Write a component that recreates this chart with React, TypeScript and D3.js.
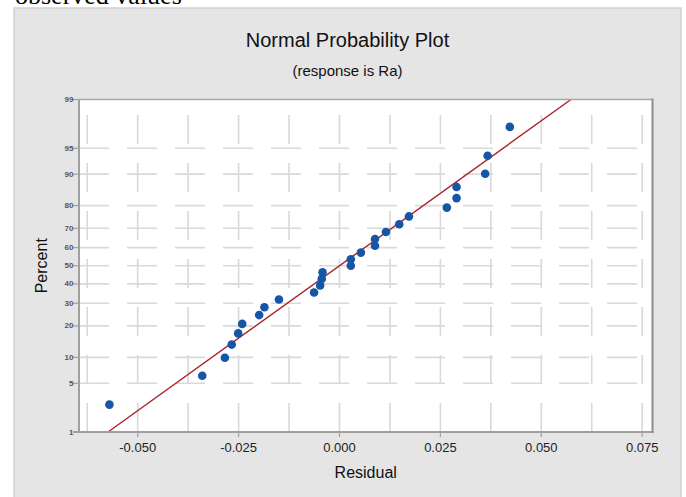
import * as d3 from "d3";

// residuals sorted ascending, with their plotted percent
const residuals = [
  -0.057, -0.034, -0.0284, -0.0267, -0.0251, -0.0241, -0.0199, -0.0186, -0.015,
  -0.0063, -0.0048, -0.0044, -0.0042, 0.0028, 0.0028, 0.0053, 0.0088, 0.0088,
  0.0115, 0.0148, 0.0172, 0.0266, 0.029, 0.029, 0.0361, 0.0367, 0.0422,
];
const percents = [
  2.6, 6.2, 9.9, 13.5, 17.2, 20.8, 24.5, 28.1, 31.8, 35.4, 39.1, 42.7, 46.4, 50.0,
  53.6, 57.3, 61.0, 64.6, 68.2, 71.9, 75.5, 79.2, 82.8, 86.5, 90.1, 93.8, 97.4,
];

// fitted normal line
const fitMean = 0.0;
const fitSd = 0.02465;

const percentTicks = [1, 5, 10, 20, 30, 40, 50, 60, 70, 80, 90, 95, 99];
const percentGrid = [5, 10, 20, 30, 40, 50, 60, 70, 80, 90, 95];
const residualTicks = [-0.05, -0.025, 0, 0.025, 0.05, 0.075];
const residualGrid = [-0.0625, -0.05, -0.0375, -0.025, -0.0125, 0, 0.0125, 0.025, 0.0375, 0.05, 0.0625, 0.075];

const W = 686;
const H = 497;
const PLOT = { left: 79, right: 652.5, top: 99.5, bottom: 432 };

// inverse normal cdf (Acklam)
function qnorm(p: number): number {
  const a = [-39.69683028665376, 220.9460984245205, -275.9285104469687, 138.357751867269, -30.66479806614716, 2.506628277459239];
  const b = [-54.47609879822406, 161.5858368580409, -155.6989798598866, 66.80131188771972, -13.28068155288572];
  const c = [-0.007784894002430293, -0.3223964580411365, -2.400758277161838, -2.549732539343734, 4.374664141464968, 2.938163982698783];
  const d = [0.007784695709041462, 0.3224671290700398, 2.445134137142996, 3.754408661907416];
  const pl = 0.02425;
  if (p < pl) {
    const q = Math.sqrt(-2 * Math.log(p));
    return (((((c[0] * q + c[1]) * q + c[2]) * q + c[3]) * q + c[4]) * q + c[5]) / ((((d[0] * q + d[1]) * q + d[2]) * q + d[3]) * q + 1);
  }
  if (p > 1 - pl) {
    const q = Math.sqrt(-2 * Math.log(1 - p));
    return -(((((c[0] * q + c[1]) * q + c[2]) * q + c[3]) * q + c[4]) * q + c[5]) / ((((d[0] * q + d[1]) * q + d[2]) * q + d[3]) * q + 1);
  }
  const q = p - 0.5;
  const r = q * q;
  return ((((((a[0] * r + a[1]) * r + a[2]) * r + a[3]) * r + a[4]) * r + a[5]) * q) / (((((b[0] * r + b[1]) * r + b[2]) * r + b[3]) * r + b[4]) * r + 1);
}

export default function App() {
  const x = d3.scaleLinear().domain([-0.06454, 0.07755]).range([PLOT.left, PLOT.right]);
  const zMax = qnorm(0.99);
  const z = d3.scaleLinear().domain([-zMax, zMax]).range([PLOT.bottom, PLOT.top]);
  const y = (pct: number) => z(qnorm(pct / 100));
  const fmt = d3.format(".3f");

  const fitLine = d3
    .line<number>()
    .x((q) => x(fitMean + q * fitSd))
    .y((q) => z(q))([-zMax, zMax]);

  const font = "'Liberation Sans', Arial, sans-serif";

  return (
    <div style={{ position: "absolute", left: 0, top: 0 }}>
      <svg width={W} height={H} style={{ display: "block", background: "#fff" }}>
        <text x={15} y={4} fontFamily="'Liberation Serif', 'Times New Roman', serif" fontSize={26} fill="#000">
          observed values
        </text>

        <rect x={14} y={8} width={667} height={495} fill="#e5e5e5" stroke="#d2d2d2" strokeWidth={1.5} />

        <text x={347.5} y={47} textAnchor="middle" fontFamily={font} fontSize={20} fill="#111">
          Normal Probability Plot
        </text>
        <text x={347.5} y={76} textAnchor="middle" fontFamily={font} fontSize={15} fill="#111">
          (response is Ra)
        </text>

        <rect x={PLOT.left} y={PLOT.top} width={PLOT.right - PLOT.left} height={PLOT.bottom - PLOT.top} fill="#fff" />

        <g stroke="#d9d9d9" strokeWidth={1.6}>
          {residualGrid.map((v) => (
            <line key={"vx" + v} x1={x(v)} x2={x(v)} y1={PLOT.bottom} y2={PLOT.top} strokeDasharray="29,19" />
          ))}
          {percentGrid.map((p) => (
            <line key={"hy" + p} x1={PLOT.left} x2={PLOT.right} y1={y(p)} y2={y(p)} strokeDasharray="30,18" />
          ))}
        </g>

        <path d={fitLine ?? ""} fill="none" stroke="#a8232a" strokeWidth={1.4} />

        <g fill="#1556a6">
          {residuals.map((r, i) => (
            <circle key={i} cx={x(r)} cy={y(percents[i])} r={4.3} />
          ))}
        </g>

        <g fill="none">
          <line x1={PLOT.left} x2={PLOT.right} y1={PLOT.top} y2={PLOT.top} stroke="#a8a8a8" strokeWidth={1.6} />
          <line x1={PLOT.left} x2={PLOT.left} y1={PLOT.top} y2={PLOT.bottom} stroke="#a0a0a0" strokeWidth={2} />
          <line x1={PLOT.left - 6} x2={PLOT.right + 1} y1={PLOT.bottom} y2={PLOT.bottom} stroke="#a0a0a0" strokeWidth={2} />
          <line x1={PLOT.right} x2={PLOT.right} y1={PLOT.top - 1} y2={PLOT.bottom + 1} stroke="#8c8c8c" strokeWidth={2} />
        </g>

        <g>
          {percentTicks.map((p) => (
            <g key={"yt" + p} transform={`translate(0,${y(p)})`}>
              <line x1={PLOT.left - 6} x2={PLOT.left} stroke="#a0a0a0" strokeWidth={1.2} />
              <text
                x={73.5}
                y={0}
                textAnchor="end"
                dominantBaseline="central"
                fontFamily={font}
                fontSize={8}
                fontWeight="bold"
                fill="#555"
              >
                {p}
              </text>
            </g>
          ))}
        </g>

        <g>
          {residualTicks.map((v) => (
            <g key={"xt" + v} transform={`translate(${x(v)},0)`}>
              <line y1={PLOT.bottom} y2={PLOT.bottom + 5} stroke="#a0a0a0" strokeWidth={1.2} />
              <text y={451.5} textAnchor="middle" fontFamily={font} fontSize={13} fill="#222">
                {fmt(v).replace("−", "-")}
              </text>
            </g>
          ))}
        </g>

        <text x={(PLOT.left + PLOT.right) / 2} y={478} textAnchor="middle" fontFamily={font} fontSize={16} fill="#111">
          Residual
        </text>
        <text
          transform={`translate(47,${(PLOT.top + PLOT.bottom) / 2}) rotate(-90)`}
          textAnchor="middle"
          fontFamily={font}
          fontSize={16}
          fill="#111"
        >
          Percent
        </text>
      </svg>
    </div>
  );
}
